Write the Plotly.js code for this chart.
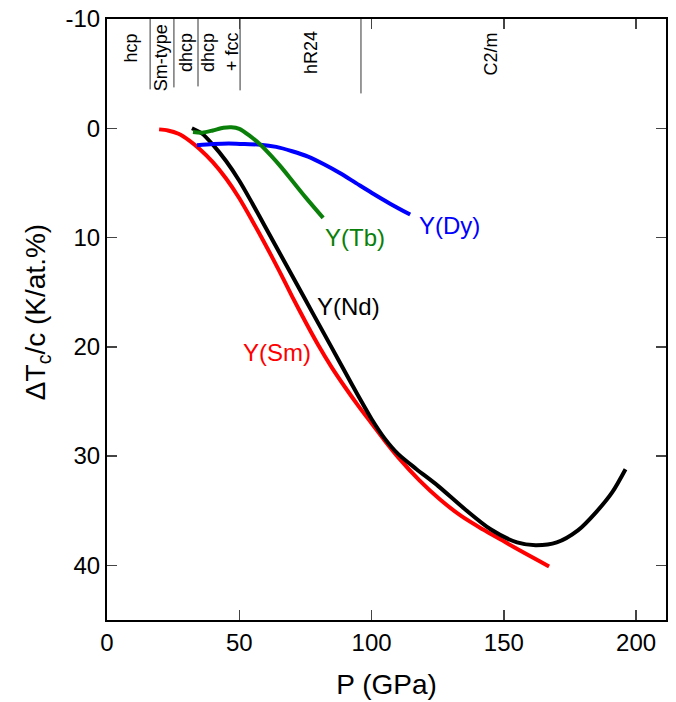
<!DOCTYPE html>
<html>
<head>
<meta charset="utf-8">
<script src="https://cdn.plot.ly/plotly-3.0.1.min.js"></script>
<style>html,body{margin:0;padding:0;background:#fff;}#chart{width:676px;height:702px;}</style>
</head>
<body>
<div id="chart"></div>
<script>
// Y(Sm)
const smP  = [19.7, 23, 27, 31, 35, 40, 45, 50, 55, 60, 65, 70, 75, 80, 85, 90, 95, 100, 105, 110, 118, 126, 134, 142, 150, 158, 167.1];
const smDT = [0.1, 0.2, 0.5, 1.1, 1.9, 3.1, 4.6, 6.4, 8.5, 10.7, 13.0, 15.4, 17.7, 19.9, 21.9, 23.7, 25.4, 27.0, 28.6, 30.1, 32.2, 34.0, 35.5, 36.7, 37.8, 38.9, 40.1];
// Y(Nd)
const ndP  = [32.1, 36, 40, 45, 50, 55, 60, 65, 70, 75, 80, 85, 90, 95, 100, 105, 110, 117, 125, 135, 145, 155, 162, 170, 178, 185, 191, 196];
const ndDT = [0.0, 0.5, 1.5, 3.0, 4.8, 6.9, 9.1, 11.3, 13.5, 15.7, 17.9, 20.1, 22.3, 24.5, 26.6, 28.4, 29.8, 31.2, 32.7, 34.8, 36.7, 37.9, 38.15, 37.9, 36.8, 35.1, 33.3, 31.2];
// Y(Tb)
const tbP  = [32.5, 36, 40, 44, 47, 50, 54, 58, 62, 66, 70, 75, 81.7];
const tbDT = [0.35, 0.4, 0.2, -0.05, -0.1, 0.05, 0.7, 1.5, 2.5, 3.6, 4.8, 6.3, 8.2];
// Y(Dy)
const dyP  = [34, 40, 46, 52, 58, 64, 70, 76, 82, 88, 94, 100, 107, 114.6];
const dyDT = [1.55, 1.45, 1.4, 1.45, 1.5, 1.7, 2.1, 2.6, 3.3, 4.1, 5.0, 5.9, 6.9, 7.9];

// Phase boundaries (P in GPa) and lower end of each boundary line
const phaseBoundP   = [16.3, 25.3, 34.4, 50.3, 96.0];
const phaseBoundEnd = [-3.56, -3.74, -3.83, -3.47, -3.19];
const phaseLabels   = ["hcp", "Sm-type", "dhcp", "dhcp", "+ fcc", "hR24", "C2/m"];
const phaseLabelP   = [8.7, 20.4, 29.9, 38.2, 47.3, 77.2, 144.8];
const phaseLabelDT  = [-7.3, -6.5, -6.9, -6.9, -7.0, -6.9, -6.75];

// Curve labels
const curveLabels  = ["Y(Tb)", "Y(Dy)", "Y(Nd)", "Y(Sm)"];
const curveLabelP  = [93.8, 129.3, 91.1, 64.3];
const curveLabelDT = [10.0, 8.9, 16.3, 20.5];
const curveColors  = ["#0a800a", "#0000ff", "#000000", "#ff0000"];

// Ticks
const xTicks = [0, 50, 100, 150, 200];
const yTicks = [-10, 0, 10, 20, 30, 40];
const yTickText = ["-10", "0", "10", "20", "30", "40"];

const FONT = "Liberation Sans, Arial, sans-serif";

const traces = [];
phaseBoundP.forEach((p, i) => {
  traces.push({x: [p, p], y: [-10, phaseBoundEnd[i]], mode: "lines",
    line: {color: "#333333", width: 1}, hoverinfo: "skip", showlegend: false});
});
function curve(x, y, color) {
  return {x: x, y: y, mode: "lines", line: {color: color, width: 4, shape: "spline", smoothing: 0.8},
    showlegend: false};
}
traces.push(curve(smP, smDT, "#ff0000"));
traces.push(curve(ndP, ndDT, "#000000"));
traces.push(curve(dyP, dyDT, "#0000ff"));
traces.push(curve(tbP, tbDT, "#0a800a"));

const annotations = [];
phaseLabels.forEach((t, i) => {
  annotations.push({x: phaseLabelP[i], y: phaseLabelDT[i], xref: "x", yref: "y", text: t,
    textangle: -90, showarrow: false, font: {family: FONT, size: 18, color: "#000"}});
});
curveLabels.forEach((t, i) => {
  annotations.push({x: curveLabelP[i], y: curveLabelDT[i], xref: "x", yref: "y", text: t,
    showarrow: false, font: {family: FONT, size: 24, color: curveColors[i]}});
});
annotations.push({x: -0.158, y: 0.5125, xref: "paper", yref: "paper", text: "ΔT<sub>c</sub>/c (K/at.%)",
  textangle: -90, showarrow: false, font: {family: FONT, size: 28, color: "#000"}});

const layout = {
  width: 676, height: 702,
  margin: {l: 107, r: 10, t: 19, b: 82},
  paper_bgcolor: "#fff", plot_bgcolor: "#fff",
  font: {family: FONT, size: 24, color: "#000"},
  xaxis: {range: [0, 211.3], tickvals: xTicks, ticks: "inside", ticklen: 10, tickwidth: 1.5,
    showline: true, linewidth: 2, linecolor: "#000", mirror: "ticks", showgrid: false, zeroline: false,
    title: {text: "P (GPa)", font: {size: 28}, standoff: 20}},
  yaxis: {range: [45, -10], tickmode: "array", tickvals: yTicks, ticktext: yTickText,
    ticks: "inside", ticklen: 10, tickwidth: 1.5,
    showline: true, linewidth: 2, linecolor: "#000", mirror: "ticks", showgrid: false, zeroline: false},
  annotations: annotations,
  showlegend: false
};
Plotly.newPlot("chart", traces, layout, {staticPlot: true});
</script>
</body>
</html>
